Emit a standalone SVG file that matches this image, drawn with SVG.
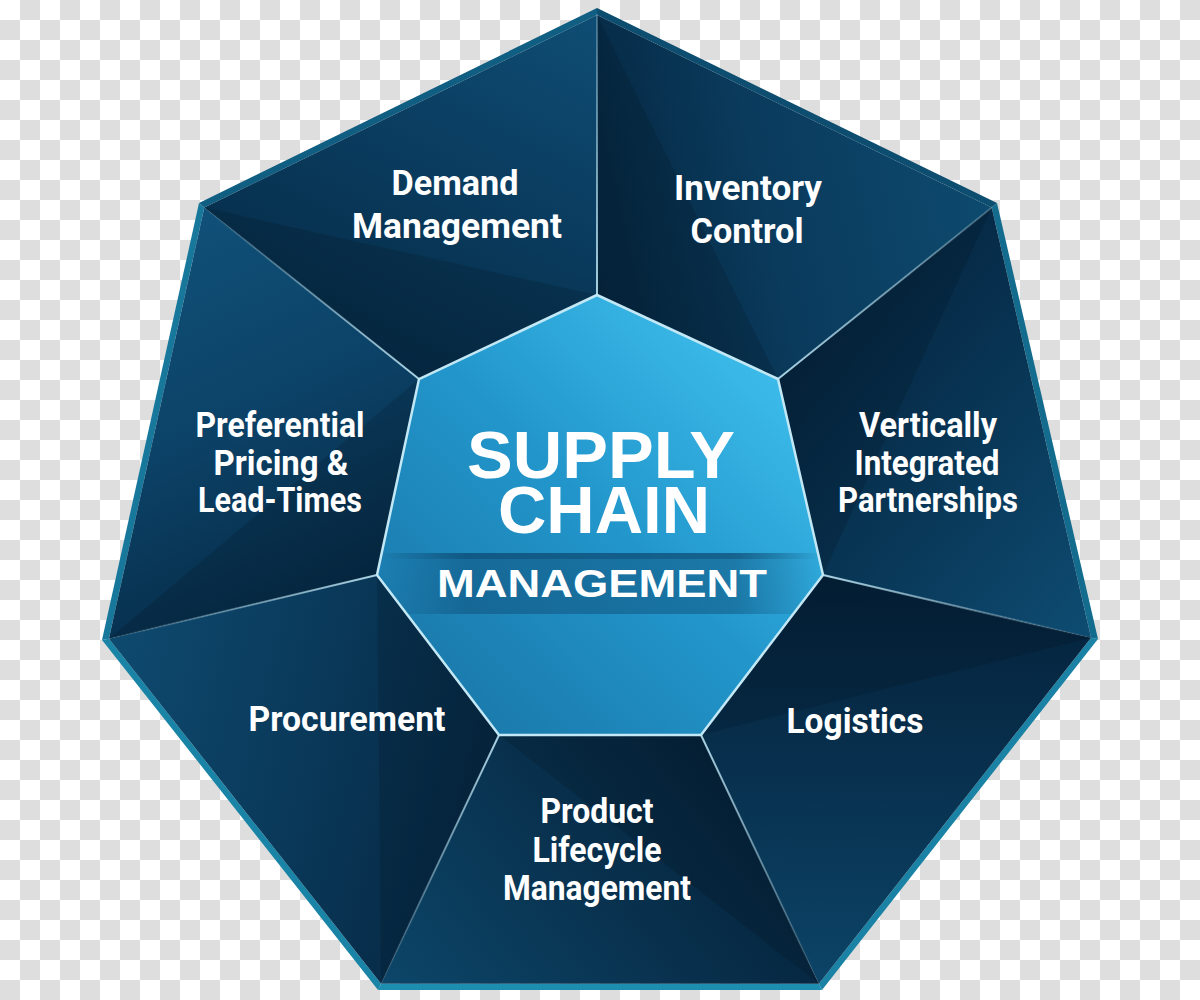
<svg xmlns="http://www.w3.org/2000/svg" width="1200" height="1000" viewBox="0 0 1200 1000">
<defs>
  <pattern id="checker" x="0" y="0" width="40" height="40" patternUnits="userSpaceOnUse">
    <rect x="0" y="0" width="40" height="40" fill="#ffffff"/>
    <rect x="20" y="0" width="20" height="20" fill="#dedede"/>
    <rect x="0" y="20" width="20" height="20" fill="#dedede"/>
  </pattern>
  <linearGradient id="coreGrad" x1="0.1" y1="0.9" x2="0.9" y2="0.1">
    <stop offset="0" stop-color="#1a78aa"/>
    <stop offset="0.5" stop-color="#2296cb"/>
    <stop offset="1" stop-color="#3fc0ee"/>
  </linearGradient>
  <linearGradient id="bandGrad" x1="0" y1="0" x2="1" y2="0">
    <stop offset="0" stop-color="#0a3f66" stop-opacity="0"/>
    <stop offset="0.2" stop-color="#0a3f66" stop-opacity="0.4"/>
    <stop offset="0.8" stop-color="#0a3f66" stop-opacity="0.4"/>
    <stop offset="1" stop-color="#0a3f66" stop-opacity="0"/>
  </linearGradient>
  <clipPath id="coreClip">
    <polygon points="597,295 778,379 823,575 701,735 499,735 377,575 419,379"/>
  </clipPath>
  <linearGradient id="gInv" gradientUnits="userSpaceOnUse" x1="991.7" y1="207.6" x2="597" y2="295"><stop offset="0" stop-color="#0d4a6e"/><stop offset="0.55" stop-color="#0a3a5c"/><stop offset="1" stop-color="#05263f"/></linearGradient>
  <linearGradient id="gVer" gradientUnits="userSpaceOnUse" x1="1091.1" y1="637.7" x2="778" y2="379"><stop offset="0" stop-color="#0e4c72"/><stop offset="0.5" stop-color="#093858"/><stop offset="1" stop-color="#052540"/></linearGradient>
  <linearGradient id="gLog" gradientUnits="userSpaceOnUse" x1="818.9" y1="983.7" x2="823" y2="575"><stop offset="0" stop-color="#0c4467"/><stop offset="0.5" stop-color="#08314f"/><stop offset="1" stop-color="#04213a"/></linearGradient>
  <linearGradient id="gPro" gradientUnits="userSpaceOnUse" x1="381.1" y1="983.7" x2="701" y2="735"><stop offset="0" stop-color="#0c4669"/><stop offset="0.5" stop-color="#093452"/><stop offset="1" stop-color="#05233b"/></linearGradient>
  <linearGradient id="gPrc" gradientUnits="userSpaceOnUse" x1="108.9" y1="638.7" x2="499" y2="735"><stop offset="0" stop-color="#0e4a6f"/><stop offset="0.5" stop-color="#0a3a5b"/><stop offset="1" stop-color="#062843"/></linearGradient>
  <linearGradient id="gPre" gradientUnits="userSpaceOnUse" x1="204.3" y1="207.6" x2="377" y2="575"><stop offset="0" stop-color="#105078"/><stop offset="0.5" stop-color="#0c4267"/><stop offset="1" stop-color="#062b47"/></linearGradient>
  <linearGradient id="gDem" gradientUnits="userSpaceOnUse" x1="597" y1="15" x2="419" y2="379"><stop offset="0" stop-color="#0f4d74"/><stop offset="0.5" stop-color="#0a3c5f"/><stop offset="1" stop-color="#062c48"/></linearGradient>
  <linearGradient id="d0" gradientUnits="userSpaceOnUse" x1="597" y1="295" x2="597" y2="15"><stop offset="0" stop-color="#b8e2f2" stop-opacity="0.9"/><stop offset="1" stop-color="#b8e2f2" stop-opacity="0.3"/></linearGradient>
  <linearGradient id="d1" gradientUnits="userSpaceOnUse" x1="778" y1="379" x2="991.7" y2="207.6"><stop offset="0" stop-color="#b8e2f2" stop-opacity="0.9"/><stop offset="1" stop-color="#b8e2f2" stop-opacity="0.2"/></linearGradient>
  <linearGradient id="d2" gradientUnits="userSpaceOnUse" x1="823" y1="575" x2="1091.1" y2="637.7"><stop offset="0" stop-color="#b8e2f2" stop-opacity="0.9"/><stop offset="1" stop-color="#b8e2f2" stop-opacity="0"/></linearGradient>
  <linearGradient id="d3" gradientUnits="userSpaceOnUse" x1="701" y1="735" x2="818.9" y2="983.7"><stop offset="0" stop-color="#b8e2f2" stop-opacity="0.9"/><stop offset="1" stop-color="#b8e2f2" stop-opacity="0"/></linearGradient>
  <linearGradient id="d4" gradientUnits="userSpaceOnUse" x1="499" y1="735" x2="381.1" y2="983.7"><stop offset="0" stop-color="#b8e2f2" stop-opacity="0.9"/><stop offset="1" stop-color="#b8e2f2" stop-opacity="0"/></linearGradient>
  <linearGradient id="d5" gradientUnits="userSpaceOnUse" x1="377" y1="575" x2="108.9" y2="638.7"><stop offset="0" stop-color="#b8e2f2" stop-opacity="0.9"/><stop offset="1" stop-color="#b8e2f2" stop-opacity="0"/></linearGradient>
  <linearGradient id="d6" gradientUnits="userSpaceOnUse" x1="419" y1="379" x2="204.3" y2="207.6"><stop offset="0" stop-color="#b8e2f2" stop-opacity="0.9"/><stop offset="1" stop-color="#b8e2f2" stop-opacity="0"/></linearGradient>
  <style>
    .lbl { font-family: Roboto, "Liberation Sans", sans-serif; font-weight: 700; font-size: 35px; fill: #ffffff; text-anchor: middle; }
    .big { font-family: "Liberation Sans", Arial, sans-serif; font-weight: 700; fill: #ffffff; text-anchor: middle; }
    .div { fill: none; stroke-width: 2; stroke-linecap: round; }
    .shade { fill: #000000; fill-opacity: 0.12; }
  </style>
</defs>

<rect x="0" y="0" width="1200" height="1000" fill="url(#checker)"/>

<g id="rim">
  <polygon points="597,8 997,203 991.7,207.6 597,15" fill="#0c4d70"/>
  <polygon points="997,203 1098,639 1091.1,637.7 991.7,207.6" fill="#136c8e"/>
  <polygon points="1098,639 822,990 818.9,983.7 1091.1,637.7" fill="#1a82a4"/>
  <polygon points="822,990 378,990 381.1,983.7 818.9,983.7" fill="#1d8db0"/>
  <polygon points="378,990 102,640 108.9,638.7 381.1,983.7" fill="#1a84a6"/>
  <polygon points="102,640 199,203 204.3,207.6 108.9,638.7" fill="#17789b"/>
  <polygon points="199,203 597,8 597,15 204.3,207.6" fill="#105e82"/>
</g>

<g id="node-inventory-control">
  <polygon points="597,15 991.7,207.6 778,379 597,295" fill="url(#gInv)"/>
  <polygon class="shade" points="597,15 597,295 778,379"/>
  <text class="lbl" x="748" y="200" textLength="148" lengthAdjust="spacingAndGlyphs">Inventory</text>
  <text class="lbl" x="747" y="243" textLength="113" lengthAdjust="spacingAndGlyphs">Control</text>
</g>

<g id="node-vertically-integrated">
  <polygon points="991.7,207.6 1091.1,637.7 823,575 778,379" fill="url(#gVer)"/>
  <polygon class="shade" points="991.7,207.6 778,379 823,575"/>
  <text class="lbl" x="928" y="437" textLength="138" lengthAdjust="spacingAndGlyphs">Vertically</text>
  <text class="lbl" x="927" y="475" textLength="145" lengthAdjust="spacingAndGlyphs">Integrated</text>
  <text class="lbl" x="928" y="512" textLength="180" lengthAdjust="spacingAndGlyphs">Partnerships</text>
</g>

<g id="node-logistics">
  <polygon points="1091.1,637.7 818.9,983.7 701,735 823,575" fill="url(#gLog)"/>
  <polygon class="shade" points="1091.1,637.7 823,575 701,735"/>
  <text class="lbl" x="855" y="733" textLength="137" lengthAdjust="spacingAndGlyphs">Logistics</text>
</g>

<g id="node-product-lifecycle">
  <polygon points="818.9,983.7 381.1,983.7 499,735 701,735" fill="url(#gPro)"/>
  <polygon class="shade" points="818.9,983.7 701,735 499,735"/>
  <text class="lbl" x="597" y="823" textLength="113" lengthAdjust="spacingAndGlyphs">Product</text>
  <text class="lbl" x="597" y="862" textLength="129" lengthAdjust="spacingAndGlyphs">Lifecycle</text>
  <text class="lbl" x="597" y="900" textLength="188" lengthAdjust="spacingAndGlyphs">Management</text>
</g>

<g id="node-procurement">
  <polygon points="381.1,983.7 108.9,638.7 377,575 499,735" fill="url(#gPrc)"/>
  <polygon class="shade" points="381.1,983.7 499,735 377,575"/>
  <text class="lbl" x="347" y="731" textLength="197" lengthAdjust="spacingAndGlyphs">Procurement</text>
</g>

<g id="node-preferential-pricing">
  <polygon points="108.9,638.7 204.3,207.6 419,379 377,575" fill="url(#gPre)"/>
  <polygon class="shade" points="108.9,638.7 377,575 419,379"/>
  <text class="lbl" x="280" y="437" textLength="169" lengthAdjust="spacingAndGlyphs">Preferential</text>
  <text class="lbl" x="281" y="475" textLength="135" lengthAdjust="spacingAndGlyphs">Pricing &amp;</text>
  <text class="lbl" x="280" y="512" textLength="164" lengthAdjust="spacingAndGlyphs">Lead-Times</text>
</g>

<g id="node-demand-management">
  <polygon points="204.3,207.6 597,15 597,295 419,379" fill="url(#gDem)"/>
  <polygon class="shade" points="204.3,207.6 419,379 597,295"/>
  <text class="lbl" x="455" y="195" textLength="127" lengthAdjust="spacingAndGlyphs">Demand</text>
  <text class="lbl" x="457" y="238" textLength="210" lengthAdjust="spacingAndGlyphs">Management</text>
</g>

<g id="connectors">
  <line class="div" x1="597" y1="295" x2="597" y2="15" stroke="url(#d0)"/>
  <line class="div" x1="778" y1="379" x2="991.7" y2="207.6" stroke="url(#d1)"/>
  <line class="div" x1="823" y1="575" x2="1091.1" y2="637.7" stroke="url(#d2)"/>
  <line class="div" x1="701" y1="735" x2="818.9" y2="983.7" stroke="url(#d3)"/>
  <line class="div" x1="499" y1="735" x2="381.1" y2="983.7" stroke="url(#d4)"/>
  <line class="div" x1="377" y1="575" x2="108.9" y2="638.7" stroke="url(#d5)"/>
  <line class="div" x1="419" y1="379" x2="204.3" y2="207.6" stroke="url(#d6)"/>
</g>

<g id="node-supply-chain-management">
  <polygon points="597,295 778,379 823,575 701,735 499,735 377,575 419,379" fill="url(#coreGrad)"/>
  <g clip-path="url(#coreClip)">
    <rect x="377" y="553" width="446" height="61" fill="url(#bandGrad)"/>
    <rect x="377" y="553" width="446" height="6" fill="url(#bandGrad)"/>
  </g>
  <polygon points="597,295 778,379 823,575 701,735 499,735 377,575 419,379" fill="none" stroke="#c2e8f6" stroke-width="2.5"/>
  <text class="big" x="601" y="478" font-size="67" textLength="268" lengthAdjust="spacingAndGlyphs">SUPPLY</text>
  <text class="big" x="604" y="533" font-size="67" textLength="212" lengthAdjust="spacingAndGlyphs">CHAIN</text>
  <text class="big" x="602" y="597" font-size="38" textLength="330" lengthAdjust="spacingAndGlyphs">MANAGEMENT</text>
</g>
</svg>
